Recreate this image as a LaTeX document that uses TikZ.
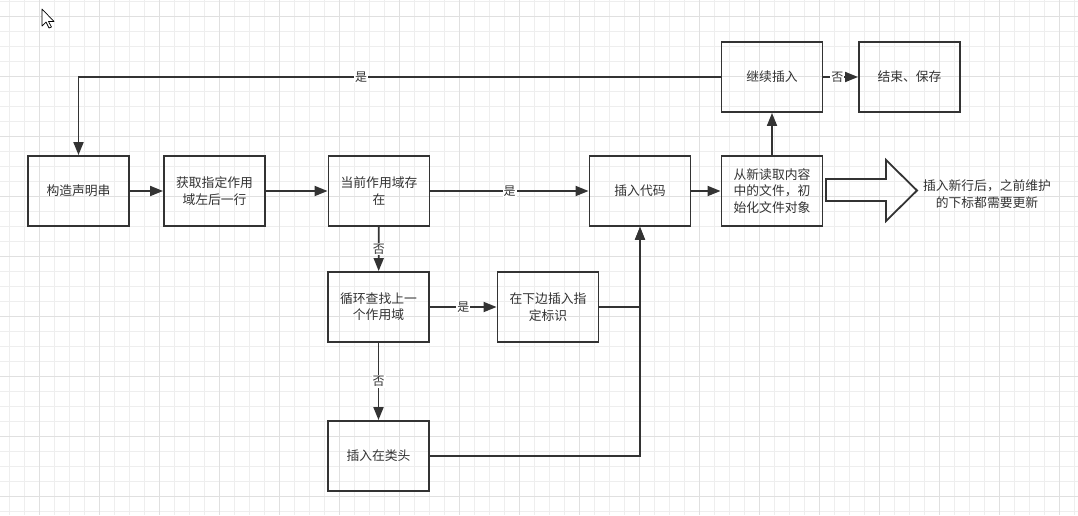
\documentclass[tikz,border=0pt]{standalone}
\usepackage{fontspec}
\newfontfamily\cjk{Noto Sans CJK SC}
\usetikzlibrary{arrows.meta}
\definecolor{linegray}{HTML}{333333}
\definecolor{gridminor}{HTML}{EEEEEE}
\definecolor{gridmajor}{HTML}{E0E0E0}

\begin{document}
\begin{tikzpicture}[x=1pt, y=-1pt,
    box/.style={draw=linegray, line width=1.9pt, minimum width=101pt, minimum height=70pt,
                inner sep=2pt, align=center, text=linegray, font=\cjk\fontsize{12.8}{16.3}\selectfont},
    flow/.style={draw=linegray, line width=1.8pt, -{Triangle[length=13pt, width=10pt]}},
    lbl/.style={fill=white, inner sep=1pt, text=linegray, font=\cjk\fontsize{12}{14}\selectfont}]
      % background and grid
      \fill[white] (0, 0) rectangle (1078, 515);
      \useasboundingbox (0, 0) rectangle (1078, 515);
      \foreach \x in {9,24,...,1077} \draw[gridminor, line width=0.9pt] (\x, 0) -- (\x, 515);
      \foreach \y in {1,16,...,514} \draw[gridminor, line width=0.9pt] (0, \y) -- (1078, \y);
      \foreach \x in {39,99,...,1077} \draw[gridmajor, line width=0.9pt] (\x, 0) -- (\x, 515);
      \foreach \y in {16,76,...,514} \draw[gridmajor, line width=0.9pt] (0, \y) -- (1078, \y);
      % cursor
      \draw[black, fill=white, line width=0.7pt, line join=round]
            (42, 9) -- (42, 26) -- (46, 22) -- (49, 28) -- (51.5, 27) -- (48.5, 21.5) -- (54, 21.5) -- cycle;

      \node[box] (decl)    at (78.5, 191) {构造声明串};
      \node[box] (getline) at (214.5, 191) {获取指定作用\\域左后一行};
      \node[box] (exists)  at (379, 191) {当前作用域存\\在};
      \node[box] (insert)  at (640, 191) {插入代码};
      \node[box] (reload)  at (772, 191) {从新读取内容\\中的文件，初\\始化文件对象};
      \node[box] (cont)    at (772, 77) {继续插入};
      \node[box] (finish)  at (909.5, 77) {结束、保存};
      \node[box] (loop)    at (378.5, 307) {循环查找上一\\个作用域};
      \node[box] (below)   at (548, 307) {在下边插入指\\定标识};
      \node[box] (head)    at (378.5, 456) {插入在类头};

      % big arrow and note
      \draw[linegray, line width=1.8pt, line join=miter]
            (826, 179) -- (886, 179) -- (886, 160) -- (917, 190.5) -- (886, 221) -- (886, 201) -- (826, 201) -- cycle;
      \node[align=center, text=linegray, font=\cjk\fontsize{12.8}{16.3}\selectfont] (note) at (987, 194)
            {插入新行后，之前维护\\的下标都需要更新};

      \draw[flow] (decl) -- (getline);
      \draw[flow] (getline) -- (exists);
      \draw[flow] (exists) -- node[lbl] {是} (insert);
      \draw[flow] (exists) -- node[lbl] {否} (loop);
      \draw[flow] (loop) -- node[lbl] {是} (below);
      \draw[flow] (loop) -- node[lbl] {否} (head);
      \draw[flow, line width=1.5pt] (below.east) -| (insert.south);
      \draw[flow, line width=1.5pt] (head.east) -| (insert.south);
      \draw[flow] (insert) -- (reload);
      \draw[flow] (reload) -- (cont);
      \draw[flow] (cont) -- node[lbl, pos=0.4] {否} (finish);
      \draw[flow] (cont.west) -| node[lbl, pos=0.28] {是} (decl.north);
\end{tikzpicture}
\end{document}
